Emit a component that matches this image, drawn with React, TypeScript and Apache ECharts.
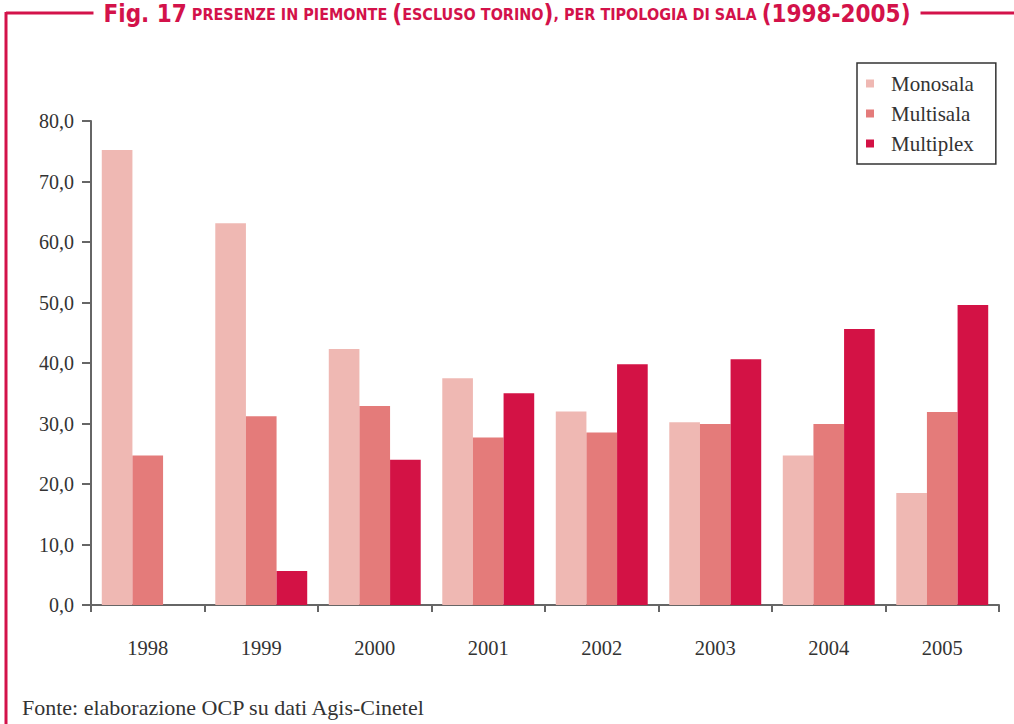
import React, { useEffect, useRef } from "react";
import * as echarts from "echarts";

const categories = ["1998", "1999", "2000", "2001", "2002", "2003", "2004", "2005"];
const monosala = [75.2, 63.1, 42.3, 37.5, 32.0, 30.2, 24.7, 18.5];
const multisala = [24.7, 31.2, 32.9, 27.7, 28.5, 29.9, 29.9, 31.9];
const multiplex = [0, 5.6, 24.0, 35.0, 39.8, 40.6, 45.6, 49.6];
const seriesNames = ["Monosala", "Multisala", "Multiplex"];
const yTicks = { min: 0, max: 80, interval: 10 };

const RED = "#d3124a";
const SERIF = "'Liberation Serif', 'Times New Roman', serif";
const COND = "'DejaVu Sans Condensed', 'Liberation Sans Narrow', 'DejaVu Sans', sans-serif";

export default function App() {
  const ref = useRef<HTMLDivElement>(null);
  useEffect(() => {
    document.body.style.margin = "0";
    const chart = echarts.init(ref.current!, null, { renderer: "svg" });
    const colors = ["#efb8b3", "#e47b7a", "#d31245"];
    const data = [monosala, multisala, multiplex];
    chart.setOption({
      animation: false,
      title: {
        text:
          "{fig|Fig. 17} {sc|PRESENZE IN PIEMONTE }{big|(}{sc|ESCLUSO TORINO}{big|)}{sc|, PER TIPOLOGIA DI SALA }{big|(1998-2005)}",
        left: "center",
        top: 2,
        backgroundColor: "#fff",
        padding: [0, 10],
        z: 10,
        textStyle: {
          lineHeight: 24,
          rich: {
            fig: { fontFamily: COND, fontWeight: "bold", fontSize: 24, lineHeight: 24, color: RED },
            sc: { fontFamily: COND, fontWeight: "bold", fontSize: 16, lineHeight: 24, color: RED },
            big: { fontFamily: COND, fontWeight: "bold", fontSize: 24, lineHeight: 24, color: RED },
          },
        },
      },
      graphic: [
        {
          type: "line",
          z: 0,
          shape: { x1: 6, y1: 13, x2: 1014, y2: 13 },
          style: { stroke: RED, lineWidth: 3 },
        },
        {
          type: "line",
          z: 0,
          shape: { x1: 6, y1: 12, x2: 6, y2: 724 },
          style: { stroke: RED, lineWidth: 3 },
        },
        {
          type: "text",
          left: 22,
          top: 696,
          style: {
            text: "Fonte: elaborazione OCP su dati Agis-Cinetel",
            fontFamily: SERIF,
            fontSize: 22,
            fill: "#333",
          },
        },
      ],
      legend: {
        orient: "vertical",
        left: 857,
        top: 63,
        data: seriesNames,
        icon: "rect",
        itemWidth: 8,
        itemHeight: 8,
        itemGap: 9,
        padding: [10, 22, 10, 9],
        borderColor: "#333",
        borderWidth: 1.5,
        textStyle: {
          fontFamily: SERIF,
          fontSize: 21,
          color: "#333",
          padding: [0, 0, 0, 12],
        },
      },
      grid: { left: 91, right: 15, top: 121, bottom: 119 },
      xAxis: {
        type: "category",
        data: categories,
        axisLine: { lineStyle: { color: "#666", width: 2 } },
        axisTick: { show: true, length: 7, lineStyle: { color: "#666", width: 2 } },
        axisLabel: { margin: 32, fontFamily: SERIF, fontSize: 20.5, color: "#333" },
      },
      yAxis: {
        type: "value",
        min: yTicks.min,
        max: yTicks.max,
        interval: yTicks.interval,
        splitLine: { show: false },
        axisLine: { show: true, lineStyle: { color: "#666", width: 2 } },
        axisTick: { show: true, length: 9, lineStyle: { color: "#666", width: 2 } },
        axisLabel: {
          margin: 17,
          fontFamily: SERIF,
          fontSize: 20,
          color: "#333",
          formatter: (v: number) => v.toFixed(1).replace(".", ","),
        },
      },
      series: seriesNames.map((name, i) => ({
        name,
        type: "bar",
        data: data[i],
        barGap: "0%",
        barCategoryGap: "19%",
        itemStyle: { color: colors[i] },
      })),
    });
    return () => chart.dispose();
  }, []);
  return <div ref={ref} style={{ width: 1014, height: 724 }} />;
}
